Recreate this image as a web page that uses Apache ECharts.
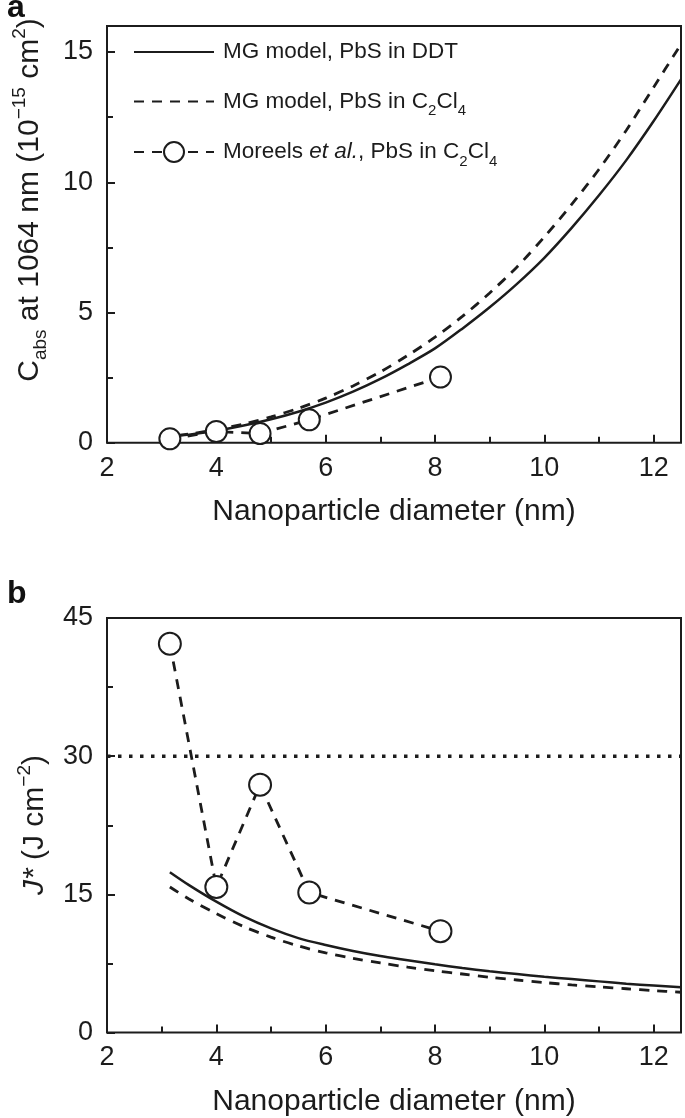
<!DOCTYPE html>
<html><head><meta charset="utf-8">
<script src="https://cdn.jsdelivr.net/npm/echarts/dist/echarts.min.js"></script>
<style>html,body{margin:0;padding:0;background:#fff}#c{width:685px;height:1118px}</style>
</head><body><div id="c"></div>
<script>
// ---- data ----
const diamA = [3.3, 3.5, 4.0, 4.5, 5.0, 5.5, 6.0, 6.5, 7.0, 7.5, 8.0, 8.5, 9.0, 9.5, 10.0, 10.5, 11.0, 11.5, 12.0, 12.5];
const cabsDDT = [0.27, 0.31, 0.46, 0.66, 0.90, 1.19, 1.54, 1.96, 2.45, 3.01, 3.62, 4.38, 5.20, 6.10, 7.10, 8.25, 9.50, 10.85, 12.35, 13.95];
const cabsC2Cl4 = [0.28, 0.33, 0.50, 0.72, 0.99, 1.32, 1.71, 2.18, 2.72, 3.35, 4.05, 4.85, 5.75, 6.75, 7.90, 9.15, 10.50, 12.00, 13.65, 15.30];
const moreelsD = [3.15, 4.0, 4.8, 5.7, 8.1];
const moreelsCabs = [0.15, 0.43, 0.35, 0.88, 2.52];
const diamB = [3.15, 3.5, 4.0, 4.5, 5.0, 5.5, 6.0, 6.5, 7.0, 7.5, 8.0, 8.5, 9.0, 9.5, 10.0, 10.5, 11.0, 11.5, 12.0, 12.5];
const jDDT = [17.4, 16.0, 14.2, 12.6, 11.3, 10.25, 9.5, 8.85, 8.3, 7.85, 7.4, 7.0, 6.65, 6.35, 6.05, 5.8, 5.55, 5.3, 5.1, 4.9];
const jC2Cl4 = [15.8, 14.5, 12.9, 11.5, 10.35, 9.4, 8.65, 8.05, 7.55, 7.1, 6.7, 6.35, 6.0, 5.7, 5.42, 5.17, 4.95, 4.75, 4.55, 4.37];
const moreelsJ = [42.2, 15.8, 26.9, 15.2, 11.0];
const thresholdX = [2, 12.5];
const thresholdJ = [30, 30];
const xTicks = [2, 4, 6, 8, 10, 12];
const yTicksA = [0, 5, 10, 15];
const yTicksB = [0, 15, 30, 45];
const names = ['MG model, PbS in DDT', 'MG model, PbS in C2Cl4', 'Moreels et al., PbS in C2Cl4'];

const zip = (xs, ys) => xs.map((x, i) => [x, ys[i]]);
const INK = '#1c1c1c';
const FF = 'Liberation Sans, Arial, sans-serif';
const DASH = [10, 8];

function mainX(gi, name) {
  return {
    type: 'value', gridIndex: gi, min: 2, max: 12.5, interval: 2, position: 'bottom',
    axisLine: { show: false }, splitLine: { show: false },
    axisTick: { show: true, inside: true, length: 8, lineStyle: { color: INK, width: 2 } },
    axisLabel: { fontSize: 27, fontFamily: FF, color: INK, margin: 12,
      formatter: v => xTicks.includes(v) ? String(v) : '' },
    name: name, nameLocation: 'middle', nameGap: 54, nameMoveOverlap: false,
    nameTextStyle: { fontSize: 30, fontFamily: FF, color: INK }
  };
}
function minorX(gi) {
  return {
    type: 'value', gridIndex: gi, min: 2, max: 12.5, interval: 1, position: 'bottom',
    axisLine: { show: false }, splitLine: { show: false }, axisLabel: { show: false },
    axisTick: { show: true, inside: true, length: 6, lineStyle: { color: INK, width: 2 } }
  };
}
function mainY(gi, max, interval, ticks) {
  return {
    type: 'value', gridIndex: gi, min: 0, max: max, interval: interval, position: 'left',
    axisLine: { show: false }, splitLine: { show: false },
    axisTick: { show: true, inside: true, length: 8, lineStyle: { color: INK, width: 2 } },
    axisLabel: { fontSize: 27, fontFamily: FF, color: INK, margin: 14,
      formatter: v => ticks.includes(v) ? String(v) : '' }
  };
}
function minorY(gi, max, interval) {
  return {
    type: 'value', gridIndex: gi, min: 0, max: max, interval: interval, position: 'left',
    axisLine: { show: false }, splitLine: { show: false }, axisLabel: { show: false },
    axisTick: { show: true, inside: true, length: 6, lineStyle: { color: INK, width: 2 } }
  };
}

const richLegend = {
  s: { fontSize: 15, fontFamily: FF, color: INK, verticalAlign: 'bottom', lineHeight: 15 },
  i: { fontSize: 22.5, fontFamily: FF, color: INK, fontStyle: 'italic', lineHeight: 34 }
};
const legendText = {
  'MG model, PbS in DDT': 'MG model, PbS in DDT',
  'MG model, PbS in C2Cl4': 'MG model, PbS in C{s|2}Cl{s|4}',
  'Moreels et al., PbS in C2Cl4': 'Moreels {i|et al.}, PbS in C{s|2}Cl{s|4}'
};
function legendFor(name, center, hideSymbol) {
  const lg = {
    data: [name], left: 133, top: center - 17, padding: 0, orient: 'vertical',
    itemWidth: 80, itemHeight: 25, selectedMode: false,
    formatter: n => legendText[n],
    textStyle: { fontSize: 22.5, fontFamily: FF, color: INK, lineHeight: 34, padding: [0, 0, 0, 4], rich: richLegend }
  };
  if (hideSymbol) lg.itemStyle = { opacity: 0 };
  return lg;
}

const titleRich = {
  m: { fontSize: 30, fontFamily: FF, fill: INK, lineHeight: 40 },
  s: { fontSize: 19, fontFamily: FF, fill: INK, verticalAlign: 'bottom', lineHeight: 19 },
  p: { fontSize: 19, fontFamily: FF, fill: INK, verticalAlign: 'top', lineHeight: 19 },
  i: { fontSize: 30, fontFamily: FF, fill: INK, fontStyle: 'italic', lineHeight: 40 }
};

const option = {
  animation: false,
  backgroundColor: '#fff',
  grid: [
    { left: 107, top: 26, width: 574, height: 416.7, show: true, borderColor: INK, borderWidth: 2, backgroundColor: 'transparent', containLabel: false, outerBoundsMode: 'none' },
    { left: 107, top: 618, width: 574, height: 414.5, show: true, borderColor: INK, borderWidth: 2, backgroundColor: 'transparent', containLabel: false, outerBoundsMode: 'none' }
  ],
  xAxis: [mainX(0, 'Nanoparticle diameter (nm)'), minorX(0), mainX(1, 'Nanoparticle diameter (nm)'), minorX(1)],
  yAxis: [mainY(0, 16, 5, yTicksA), minorY(0, 16, 2.5), mainY(1, 45, 15, yTicksB), minorY(1, 45, 7.5)],
  legend: [legendFor(names[0], 52, true), legendFor(names[1], 101.5, true), legendFor(names[2], 152, false)],
  series: [
    { name: names[0], type: 'line', xAxisIndex: 0, yAxisIndex: 0, data: zip(diamA, cabsDDT), smooth: 0.3,
      symbol: 'none', lineStyle: { color: INK, width: 2.5, type: 'solid' }, itemStyle: { color: INK }, z: 3 },
    { name: names[1], type: 'line', xAxisIndex: 0, yAxisIndex: 0, data: zip(diamA, cabsC2Cl4), smooth: 0.3,
      symbol: 'none', lineStyle: { color: INK, width: 2.8, type: DASH }, itemStyle: { color: INK }, z: 3 },
    { name: names[2], type: 'line', xAxisIndex: 0, yAxisIndex: 0, data: zip(moreelsD, moreelsCabs),
      symbol: 'circle', symbolSize: 21, showAllSymbol: true,
      lineStyle: { color: INK, width: 2.8, type: DASH },
      itemStyle: { color: '#fff', borderColor: INK, borderWidth: 2 }, z: 4 },
    { name: 'b1', type: 'line', xAxisIndex: 2, yAxisIndex: 2, data: zip(diamB, jDDT), smooth: 0.3,
      symbol: 'none', lineStyle: { color: INK, width: 2.5, type: 'solid' }, itemStyle: { color: INK }, z: 3 },
    { name: 'b2', type: 'line', xAxisIndex: 2, yAxisIndex: 2, data: zip(diamB, jC2Cl4), smooth: 0.3,
      symbol: 'none', lineStyle: { color: INK, width: 2.8, type: DASH }, itemStyle: { color: INK }, z: 3 },
    { name: 'b3', type: 'line', xAxisIndex: 2, yAxisIndex: 2, data: zip(moreelsD, moreelsJ),
      symbol: 'circle', symbolSize: 22, showAllSymbol: true,
      lineStyle: { color: INK, width: 2.8, type: DASH },
      itemStyle: { color: '#fff', borderColor: INK, borderWidth: 2 }, z: 4 },
    { name: 'b4', type: 'line', xAxisIndex: 2, yAxisIndex: 2, data: zip(thresholdX, thresholdJ),
      symbol: 'none', lineStyle: { color: INK, width: 3.5, type: [3.5, 7.5] }, z: 2 }
  ],
  graphic: [
    { type: 'text', left: 7, top: -8, style: { text: 'a', fontSize: 32, fontWeight: 'bold', fontFamily: FF, fill: '#111' } },
    { type: 'text', left: 7, top: 578, style: { text: 'b', fontSize: 32, fontWeight: 'bold', fontFamily: FF, fill: '#111' } },
    { type: 'text', x: 30, y: 200, rotation: Math.PI / 2,
      style: { text: '{m|C}{s|abs}{m| at 1064 nm (10}{p|−15}{m| cm}{p|2}{m|)}', rich: titleRich,
        align: 'center', verticalAlign: 'middle', fill: INK } },
    { type: 'text', x: 35, y: 825, rotation: Math.PI / 2,
      style: { text: '{i|J*}{m| (J cm}{p|−2}{m|)}', rich: titleRich,
        align: 'center', verticalAlign: 'middle', fill: INK } }
  ]
};
const chart = echarts.init(document.getElementById('c'), null, { renderer: 'canvas' });
chart.setOption(option);
</script>
</body></html>
